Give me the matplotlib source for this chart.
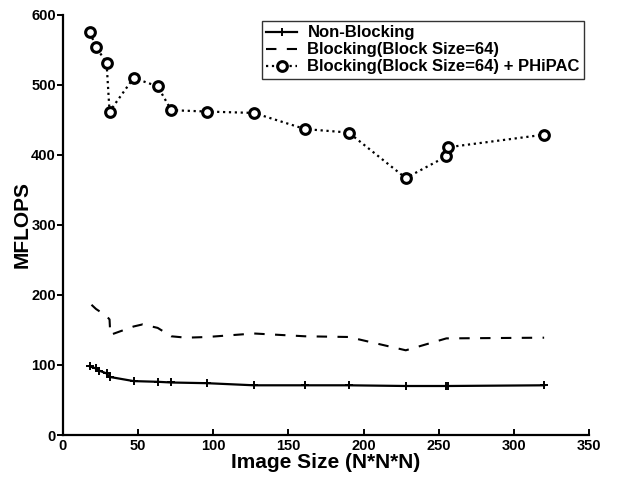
import matplotlib
matplotlib.use("Agg")
import matplotlib.pyplot as plt

plt.rcParams['font.family'] = ['Liberation Sans', 'DejaVu Sans']
plt.rcParams['font.weight'] = 'bold'

# image sizes (N) and MFLOPS
sizes = [18, 22, 24, 29, 31, 47, 63, 72, 96, 127, 161, 190, 228, 255, 256, 320]
non_blocking = [98, 95, 92, 88, 83, 77, 76, 75, 74, 71, 71, 71, 70, 70, 70, 71]

block_sizes = [19, 22, 29, 31, 31.5, 47, 53, 63, 72, 82, 96, 127, 161, 190, 228, 255, 320]
blocking = [186, 180, 170, 165, 143, 155, 158, 153, 141, 139, 140, 145, 141, 140, 121, 138, 139]

phipac_sizes = [18, 22, 29, 31, 47, 63, 72, 96, 127, 161, 190, 228, 255, 256, 320]
phipac = [575, 554, 532, 462, 510, 498, 464, 462, 460, 437, 432, 367, 398, 411, 429]

fig = plt.figure(figsize=(6.17, 4.82), dpi=100)
ax = fig.add_axes([0.102, 0.0975, 0.853, 0.8715])

ax.plot(sizes, non_blocking, color='black', lw=1.6, marker='+', ms=6, mew=1.4,
        label='Non-Blocking')
ax.plot(block_sizes, blocking, color='black', lw=1.5, ls=(0, (5, 5)),
        label='Blocking(Block Size=64)')
ax.plot(phipac_sizes, phipac, color='black', lw=1.6, ls=':', marker='o', ms=7,
        mew=2.2, mfc='white', mec='black',
        label='Blocking(Block Size=64) + PHiPAC')

ax.set_xlim(0, 350)
ax.set_ylim(0, 600)
ax.set_xticks(range(0, 351, 50))
ax.set_yticks(range(0, 601, 100))
ax.spines['top'].set_visible(False)
ax.spines['right'].set_visible(False)
ax.spines['left'].set_linewidth(1.6)
ax.spines['bottom'].set_linewidth(1.6)
ax.tick_params(axis='x', direction='in', length=4, width=1.4, labelsize=10.5, pad=3)
ax.tick_params(axis='y', direction='out', length=4, width=1.4, labelsize=10.5, pad=1)
for t in ax.get_xticklabels() + ax.get_yticklabels():
    t.set_fontweight('bold')

ax.set_xlabel('Image Size (N*N*N)', fontsize=15, fontweight='bold', labelpad=0)
ax.set_ylabel('MFLOPS', fontsize=15, fontweight='bold', labelpad=0)

leg = ax.legend(loc='upper right', bbox_to_anchor=(0.99, 0.985), fontsize=12,
                frameon=True, fancybox=False, edgecolor='black',
                handlelength=1.9, handletextpad=0.6, borderpad=0.25,
                labelspacing=0.12, borderaxespad=0)
leg.get_frame().set_linewidth(1.0)
for t in leg.get_texts():
    t.set_fontweight('bold')

fig.savefig('out.png', dpi=100)
